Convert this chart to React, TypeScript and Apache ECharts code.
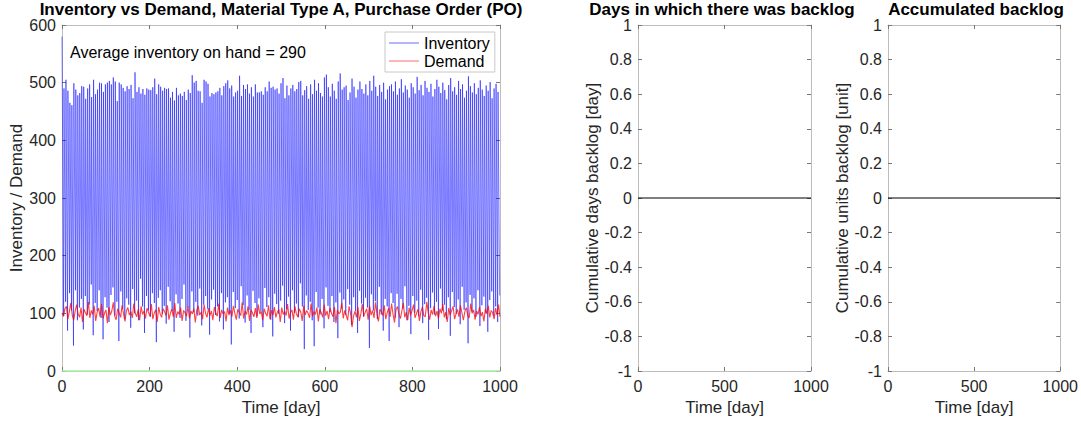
import React, { useEffect, useRef } from "react";
import * as echarts from "echarts";

// Inventory: stock level right after each replenishment and just before the next one
const inventoryPeaks = [
  580, 490, 505, 486, 465, 461, 499, 488, 478, 482, 494, 493, 472, 490, 497, 475, 505, 480, 488, 500,
  499, 484, 497, 500, 503, 497, 509, 502, 468, 500, 497, 491, 485, 494, 489, 496, 473, 518, 484, 492,
  481, 489, 479, 490, 488, 487, 492, 507, 480, 497, 493, 486, 491, 489, 490, 474, 484, 469, 491, 478,
  481, 477, 484, 470, 488, 482, 513, 500, 503, 486, 485, 465, 505, 502, 498, 476, 482, 480, 483, 485,
  491, 478, 494, 499, 504, 490, 495, 476, 483, 486, 512, 477, 496, 489, 497, 481, 492, 476, 497, 483,
  483, 485, 479, 492, 485, 502, 491, 493, 488, 490, 481, 499, 508, 473, 495, 478, 490, 496, 485, 489,
  501, 503, 478, 487, 494, 472, 497, 480, 505, 486, 499, 482, 476, 509, 514, 492, 476, 498, 486, 472,
  502, 516, 488, 492, 495, 470, 483, 507, 493, 474, 488, 502, 489, 481, 497, 478, 503, 486, 512, 493,
  477, 496, 484, 500, 471, 488, 494, 497, 485, 502, 479, 490, 506, 483, 495, 488, 474, 499, 492, 481,
  510, 487, 496, 478, 503, 491, 484, 498, 476, 489, 505, 493, 482, 500, 487, 471, 496, 508, 485, 492,
  479, 503, 489, 497, 474, 486, 511, 494, 483, 499, 480, 491, 504, 488, 477, 495, 486, 501, 473, 490,
  498, 484,
];
const inventoryTroughs = [
  95, 120, 70, 135, 105, 44, 140, 88, 110, 125, 72, 130, 98, 115, 150, 62, 118, 104, 140, 92,
  55, 128, 110, 85, 132, 145, 96, 120, 52, 138, 108, 90, 126, 115, 75, 142, 100, 122, 88, 160,
  112, 66, 130, 105, 94, 135, 118, 50, 127, 140, 99, 113, 82, 146, 121, 104, 68, 133, 117, 92,
  125, 150, 87, 110, 58, 138, 102, 120, 96, 143, 79, 115, 130, 108, 63, 124, 141, 97, 112, 86,
  135, 72, 119, 128, 100, 46, 137, 109, 123, 91, 147, 114, 84, 131, 106, 66, 139, 118, 95, 126,
  103, 76, 144, 111, 128, 89, 60, 134, 116, 99, 122, 148, 83, 107, 129, 70, 140, 101, 117, 93,
  152, 112, 38, 131, 106, 120, 88, 43, 137, 110, 98, 125, 74, 145, 113, 102, 130, 85, 119, 57,
  136, 108, 124, 97, 142, 115, 80, 128, 104, 66, 139, 117, 94, 127, 110, 40, 133, 105, 121, 90,
  146, 98, 70, 125, 112, 52, 135, 118, 92, 134, 76, 125, 108, 147, 88, 113, 64, 130, 101, 122,
  95, 141, 83, 116, 127, 54, 109, 136, 98, 120, 73, 143, 105, 115, 90, 128, 61, 137, 111, 99,
  124, 81, 146, 106, 119, 48, 132, 103, 126, 94, 140, 78, 114, 129, 100, 68, 123, 138, 96, 112,
  85, 131,
];

// Daily demand, sampled every few days
const demand = [
  100, 95, 108, 112, 90, 103, 118, 97, 88, 104, 115, 99, 93, 110, 85, 107, 101, 96, 120, 92,
  105, 98, 113, 87, 102, 109, 94, 116, 91, 100, 106, 83, 111, 97, 104, 119, 95, 89, 108, 101,
  93, 114, 99, 86, 105, 110, 97, 103, 92, 117, 100, 94, 107, 88, 112, 98, 104, 91, 109, 102,
  95, 116, 90, 101, 106, 85, 111, 99, 93, 108, 103, 96, 114, 89, 100, 107, 94, 118, 92, 103,
  98, 110, 87, 105, 101, 95, 112, 91, 104, 99, 108, 84, 106, 113, 97, 102, 90, 115, 100, 93,
  109, 96, 104, 88, 111, 101, 95, 117, 92, 106, 99, 103, 86, 110, 97, 105, 94, 113, 100, 89,
  107, 102, 96, 119, 91, 104, 98, 112, 87, 106, 101, 94, 109, 92, 115, 99, 103, 88, 108, 100,
  95, 114, 90, 105, 97, 111, 93, 102, 107, 85, 110, 98, 104, 96, 116, 91, 101, 106, 89, 112,
  99, 94, 108, 102, 87, 113, 97, 105, 100, 92, 117, 95, 103, 98, 110, 86, 107, 101, 93, 115,
  96, 104, 90, 109, 100, 94, 111, 83, 106, 99, 102, 118, 91, 105, 97, 88, 112, 100, 76, 95,
  104, 93, 111, 87, 99, 116, 95, 102, 108, 89, 113, 97, 105, 92, 119, 100, 86, 107, 103, 96,
  114, 90, 101, 109, 94, 117, 98, 84, 106, 112, 99, 91, 104, 118, 93, 102, 88, 110, 97, 105,
  115, 92, 100, 107, 87, 103, 111, 96, 94, 120, 101, 89, 106, 98, 113, 95, 104, 91, 108, 100,
  116, 93, 102, 85, 109, 97, 105, 112, 90, 99, 107, 94, 114, 101, 88, 103, 110, 96, 92, 117,
  100, 106, 89, 104, 98, 111, 95, 102, 86, 108, 99, 113, 93, 105, 101, 90, 109, 97, 115, 94,
];

// Backlog series (no backlog occurred during the horizon)
const backlogTime = [0, 1000];
const backlogLevel = [0, 0];
const cumulativeDaysBacklog = [0, 0];
const cumulativeUnitsBacklog = [0, 0];

const averageInventory = 290;
const horizonDays = 1000;

const FONT = "'Liberation Sans', Arial, Helvetica, sans-serif";
const TEXT = "#262626";
const AXIS = "#bdbdbd";
const TICK = "#777";

function buildInventory(): number[][] {
  const n = Math.min(inventoryPeaks.length, inventoryTroughs.length);
  const step = horizonDays / n;
  const pts: number[][] = [];
  for (let i = 0; i < n; i++) {
    const start = i * step;
    pts.push([start, inventoryPeaks[i]]);
    pts.push([Math.min(start + step - 0.8, horizonDays), inventoryTroughs[i]]);
  }
  return pts;
}

function buildDemand(): number[][] {
  const step = horizonDays / (demand.length - 1);
  return demand.map((d, i) => [i * step, d]);
}

function pair(xs: number[], ys: number[]): number[][] {
  return xs.map((x, i) => [x, ys[i]]);
}

const fmt = (v: number) => String(Number(v.toFixed(2)));

const grids = [
  { left: 62, top: 25, width: 438, height: 346 },
  { left: 638, top: 25, width: 173, height: 346 },
  { left: 888, top: 25, width: 173, height: 346 },
];

function mainXAxis(gridIndex: number, interval: number) {
  return {
    type: "value",
    gridIndex,
    min: 0,
    max: horizonDays,
    interval,
    name: "Time [day]",
    nameLocation: "middle",
    nameGap: 28,
    nameTextStyle: { fontSize: 17, color: TEXT, fontFamily: FONT },
    axisLine: { show: true, onZero: false, lineStyle: { color: AXIS, width: 1 } },
    axisTick: { show: true, inside: true, length: 4, lineStyle: { color: TICK } },
    axisLabel: { fontSize: 16, color: TEXT, fontFamily: FONT, margin: 7, formatter: fmt },
    splitLine: { show: false },
  };
}

function topXAxis(gridIndex: number, interval: number) {
  return {
    type: "value",
    gridIndex,
    position: "top",
    min: 0,
    max: horizonDays,
    interval,
    axisLine: { show: true, onZero: false, lineStyle: { color: AXIS, width: 1 } },
    axisTick: { show: true, inside: true, length: 4, lineStyle: { color: TICK } },
    axisLabel: { show: false },
    splitLine: { show: false },
  };
}

function mainYAxis(gridIndex: number, min: number, max: number, interval: number, name: string, nameGap: number) {
  return {
    type: "value",
    gridIndex,
    min,
    max,
    interval,
    name,
    nameLocation: "middle",
    nameGap,
    nameTextStyle: { fontSize: 17, color: TEXT, fontFamily: FONT },
    axisLine: { show: true, onZero: false, lineStyle: { color: AXIS, width: 1 } },
    axisTick: { show: true, inside: true, length: 4, lineStyle: { color: TICK } },
    axisLabel: { fontSize: 16, lineHeight: 16, color: TEXT, fontFamily: FONT, margin: 6, formatter: fmt },
    splitLine: { show: false },
  };
}

function rightYAxis(gridIndex: number, min: number, max: number, interval: number) {
  return {
    type: "value",
    gridIndex,
    position: "right",
    min,
    max,
    interval,
    axisLine: { show: true, onZero: false, lineStyle: { color: AXIS, width: 1 } },
    axisTick: { show: true, inside: true, length: 4, lineStyle: { color: TICK } },
    axisLabel: { show: false },
    splitLine: { show: false },
  };
}

export default function App() {
  const ref = useRef<HTMLDivElement>(null);

  useEffect(() => {
    if (!ref.current) return;
    const chart = echarts.init(ref.current, undefined, { renderer: "svg" });

    const titleStyle = { fontSize: 17, lineHeight: 16, fontWeight: "bold", color: "#000", fontFamily: FONT };

    chart.setOption({
      animation: false,
      backgroundColor: "#fff",
      title: [
        { text: "Inventory vs Demand, Material Type A, Purchase Order (PO)", left: 281, top: 1, textAlign: "center", padding: 0, textStyle: titleStyle },
        { text: "Days in which there was backlog", left: 722, top: 1, textAlign: "center", padding: 0, textStyle: titleStyle },
        { text: "Accumulated backlog", left: 976, top: 1, textAlign: "center", padding: 0, textStyle: titleStyle },
      ],
      grid: grids,
      xAxis: [
        mainXAxis(0, 200),
        mainXAxis(1, 500),
        mainXAxis(2, 500),
        topXAxis(0, 200),
        topXAxis(1, 500),
        topXAxis(2, 500),
      ],
      yAxis: [
        mainYAxis(0, 0, 600, 100, "Inventory / Demand", 36),
        mainYAxis(1, -1, 1, 0.2, "Cumulative days backlog [day]", 34),
        mainYAxis(2, -1, 1, 0.2, "Cumulative units backlog [unit]", 34),
        rightYAxis(0, 0, 600, 100),
        rightYAxis(1, -1, 1, 0.2),
        rightYAxis(2, -1, 1, 0.2),
      ],
      legend: {
        left: 385,
        top: 32,
        orient: "vertical",
        padding: [3, 5, 3, 4],
        itemGap: 2,
        itemWidth: 30,
        itemHeight: 2,
        icon: "rect",
        backgroundColor: "#fff",
        borderColor: "#c8c8c8",
        borderWidth: 1,
        borderRadius: 0,
        textStyle: { fontSize: 16, color: "#000", fontFamily: FONT },
        data: [
          { name: "Inventory", itemStyle: { color: "rgba(120,120,255,0.55)" } },
          { name: "Demand", itemStyle: { color: "rgba(255,120,120,0.55)" } },
        ],
      },
      graphic: [
        {
          type: "text",
          left: 70,
          top: 44,
          style: {
            text: `Average inventory on hand = ${averageInventory}`,
            fontSize: 16,
            fill: "#000",
            fontFamily: FONT,
          },
        },
      ],
      series: [
        {
          name: "Inventory",
          type: "line",
          xAxisIndex: 0,
          yAxisIndex: 0,
          data: buildInventory(),
          showSymbol: false,
          symbol: "none",
          lineStyle: { color: "rgba(0,0,255,0.5)", width: 1 },
          itemStyle: { color: "rgba(0,0,255,0.5)" },
          z: 2,
        },
        {
          name: "Demand",
          type: "line",
          xAxisIndex: 0,
          yAxisIndex: 0,
          data: buildDemand(),
          showSymbol: false,
          symbol: "none",
          lineStyle: { color: "rgba(255,0,0,0.75)", width: 1.1 },
          itemStyle: { color: "rgba(255,0,0,0.75)" },
          z: 3,
        },
        {
          name: "Backlog",
          type: "line",
          xAxisIndex: 0,
          yAxisIndex: 0,
          data: pair(backlogTime, backlogLevel),
          showSymbol: false,
          symbol: "none",
          clip: false,
          lineStyle: { color: "#a6f0a6", width: 1.5 },
          z: 4,
        },
        {
          name: "Days backlog",
          type: "line",
          xAxisIndex: 1,
          yAxisIndex: 1,
          data: pair(backlogTime, cumulativeDaysBacklog),
          showSymbol: false,
          symbol: "none",
          lineStyle: { color: "#000", width: 1 },
        },
        {
          name: "Units backlog",
          type: "line",
          xAxisIndex: 2,
          yAxisIndex: 2,
          data: pair(backlogTime, cumulativeUnitsBacklog),
          showSymbol: false,
          symbol: "none",
          lineStyle: { color: "#000", width: 1 },
        },
      ],
    });

    return () => chart.dispose();
  }, []);

  return (
    <div
      ref={ref}
      style={{ position: "fixed", left: 0, top: 0, width: 1081, height: 423 }}
    />
  );
}
